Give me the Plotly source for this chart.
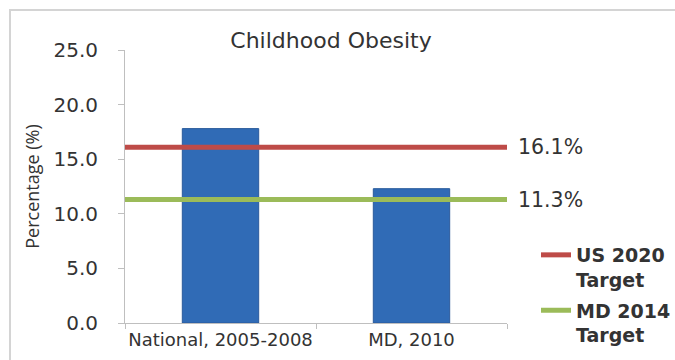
import plotly.graph_objects as go

categories = ["National, 2005-2008", "MD, 2010"]
obesity_pct = [17.8, 12.3]
target_names = ["US 2020<br>Target", "MD 2014<br>Target"]
target_values = [16.1, 11.3]
target_labels = ["16.1%", "11.3%"]
target_colors = ["#be4b48", "#9bbb59"]
y_ticks = [0, 5, 10, 15, 20, 25]

W, H = 675, 360
L, R, T, B = 125, 168, 50, 37

font_family = "DejaVu Sans, sans-serif"
txt = "#333333"

fig = go.Figure()
fig.add_trace(go.Bar(
    x=categories, y=obesity_pct, width=0.4,
    marker=dict(color="#306bb6", line=dict(color="#2a5b9c", width=1)),
    showlegend=False,
))

for i, (name, val, col, lab) in enumerate(zip(target_names, target_values, target_colors, target_labels)):
    fig.add_hline(y=val, line=dict(color=col, width=5), layer="above",
                  showlegend=True, name=name, legendgroup=f"g{i}")
    fig.add_annotation(x=1, xref="paper", y=val, yref="y", text=lab,
                       showarrow=False, xanchor="left", xshift=9,
                       font=dict(size=20.5, color=txt, family=font_family))

# outer chart border (pixel positions converted to paper coords)
pw, ph = W - L - R, H - T - B
fig.add_shape(type="rect", xref="paper", yref="paper",
              x0=(10 - L) / pw, x1=(690 - L) / pw,
              y0=(H - B - 380) / ph, y1=(H - B - 10) / ph,
              line=dict(color="#d4d4d4", width=2), layer="below")

fig.update_layout(
    width=W, height=H,
    margin=dict(l=L, r=R, t=T, b=B, autoexpand=False),
    paper_bgcolor="white", plot_bgcolor="white",
    font=dict(family=font_family, color=txt),
    title=dict(text="Childhood Obesity", x=331 / W, xanchor="center",
               y=1 - 40 / H, yanchor="middle",
               font=dict(size=22, color=txt, family=font_family)),
    legend=dict(x=1 + 29 / pw, xanchor="left", y=(H - B - 236) / ph, yanchor="top",
                valign="top",
                font=dict(size=19, color=txt, family=font_family, weight="bold"),
                bgcolor="rgba(0,0,0,0)", itemwidth=30, tracegroupgap=3),
    bargap=0.6,
)
fig.update_xaxes(showline=True, linecolor="#bfbfbf", linewidth=1,
                 ticks="outside", tickson="boundaries", ticklen=5, tickcolor="#bfbfbf",
                 tickangle=0,
                 tickfont=dict(size=18, color=txt), showgrid=False, automargin=False)
fig.update_yaxes(range=[0, 25], tickvals=y_ticks, tickformat=".1f",
                 showline=True, linecolor="#bfbfbf", linewidth=1,
                 ticks="outside", ticklen=6, tickcolor="#bfbfbf",
                 ticklabelstandoff=16, automargin=False,
                 tickfont=dict(size=20, color=txt), showgrid=False,
                 zeroline=False,
                 title=dict(text="Percentage (%)",
                            font=dict(size=18, color=txt, family="Open Sans, sans-serif"),
                            standoff=9))

fig.write_html("out.html")
